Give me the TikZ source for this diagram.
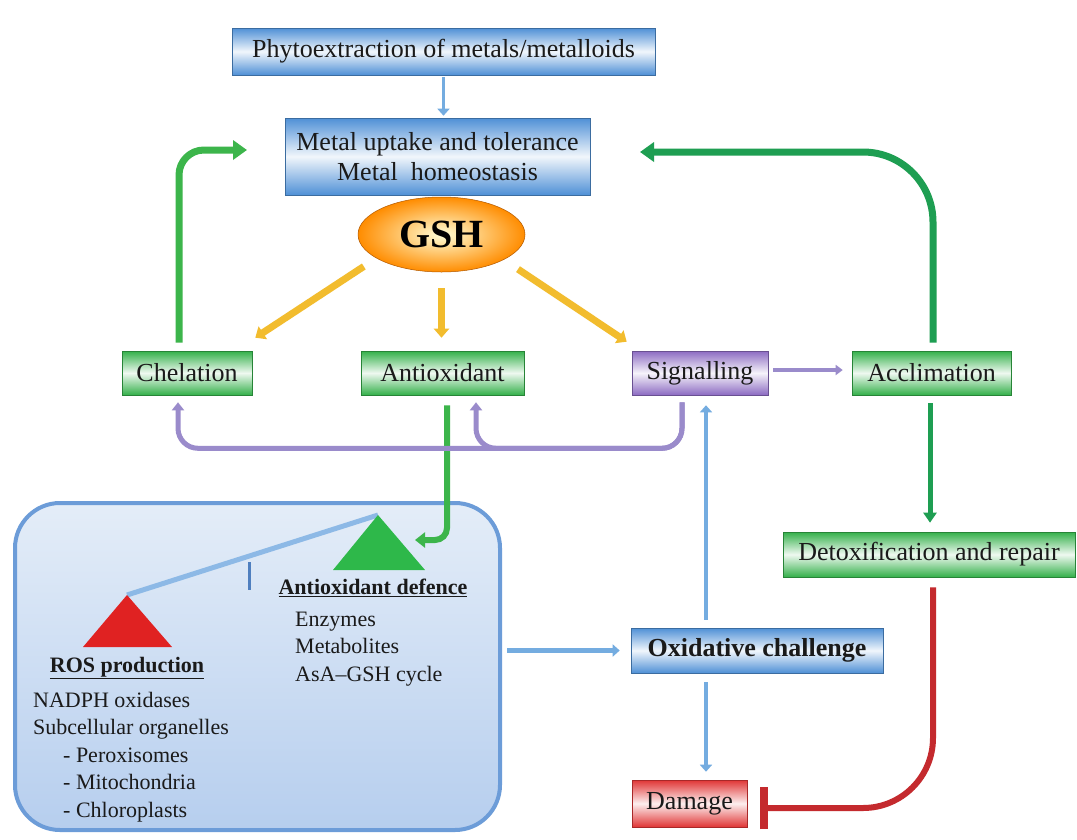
\documentclass[tikz,border=0pt]{standalone}
\usepackage{fontspec}
\setmainfont{Liberation Serif}
\usetikzlibrary{arrows.meta,shapes.geometric,calc}
\definecolor{bluebox}{HTML}{4F90D6}
\definecolor{greenbox}{HTML}{34B04A}
\definecolor{purplebox}{HTML}{8C6BC2}
\definecolor{redbox}{HTML}{E03535}
\definecolor{grnA}{HTML}{3CB54B}
\definecolor{grnB}{HTML}{1E9E52}
\definecolor{purpline}{HTML}{9A8BCB}
\definecolor{blueline}{HTML}{74ACE0}
\definecolor{goldline}{HTML}{F2BC2E}
\definecolor{redline}{HTML}{C42A2E}
\definecolor{bigedge}{HTML}{6C9CD8}
\definecolor{bigtop}{HTML}{E4EDF8}
\definecolor{bigbot}{HTML}{B6CEEE}
\definecolor{beamcol}{HTML}{8DB9E6}
\definecolor{tickcol}{HTML}{4F7FBF}
\definecolor{redtri}{HTML}{E02222}
\definecolor{greentri}{HTML}{2EB84A}
\definecolor{txt}{HTML}{1A1A1A}
\begin{document}
\begin{tikzpicture}[x=1pt,y=-1pt,
  box/.style={draw=#1!75!black, line width=0.6pt, top color=#1, bottom color=#1, middle color=#1!8,
    inner sep=0pt, font=\fontsize{26}{30}\selectfont, text=txt, align=center},
  bigbox/.style={draw=bigedge, line width=4pt, rounded corners=45pt, top color=bigtop, bottom color=bigbot},
  thinblue/.style={draw=blueline, line width=4pt, -{Triangle[length=7pt,width=12pt]}},
  purp/.style={draw=purpline, line width=5pt, rounded corners=20pt, -{Triangle[length=8pt,width=12pt]}},
  grnarrow/.style={draw=#1, line width=7pt, -{Triangle[length=14pt,width=19pt]}},
  goldarrow/.style={draw=goldline, line width=7pt, -{Triangle[length=9pt,width=15pt]}},
  redinh/.style={draw=redline, line width=6pt, rounded corners=70pt, -{Bar[width=42pt,line width=8pt]}},
  innertext/.style={inner sep=0pt, font=\fontsize{22}{27.5}\selectfont, text=txt, align=left},
  headtext/.style={inner sep=0pt, font=\bfseries\fontsize{22}{26}\selectfont, text=txt}
]
\useasboundingbox (0,0) rectangle (1077,839);
\fill[white] (0,0) rectangle (1077,839);

% big box
\node[bigbox, minimum width=485pt, minimum height=327pt] (big) at (257.5,666.5) {};

% boxes
\node[box=bluebox, minimum width=423pt, minimum height=47pt] (phyto) at (443.5,51.5) {Phytoextraction of metals/metalloids};
\node[box=bluebox, minimum width=305pt, minimum height=77pt] (metal) at (437.5,156.5) {Metal uptake and tolerance\\Metal\ \ homeostasis};
\node[ellipse, minimum width=167pt, minimum height=75pt, inner sep=0pt, draw=orange!70!black, line width=0.5pt,
      inner color=yellow!15!white, outer color=orange!90!yellow, font=\bfseries\fontsize{40}{44}\selectfont] (gsh) at (441.5,234.5) {GSH};
\node[box=greenbox, minimum width=130pt, minimum height=44pt] (chel) at (187,373) {Chelation};
\node[box=greenbox, minimum width=163pt, minimum height=44pt] (antiox) at (442.5,373) {Antioxidant};
\node[box=purplebox, minimum width=136pt, minimum height=44pt] (signal) at (700,373) {Signalling};
\node[box=greenbox, minimum width=159pt, minimum height=44pt] (acclim) at (931.5,373) {Acclimation};
\node[box=greenbox, minimum width=292pt, minimum height=45pt] (detox) at (929,554.5) {Detoxification and repair};
\node[box=bluebox, minimum width=252pt, minimum height=45pt, font=\bfseries\fontsize{26}{30}\selectfont] (oxid) at (757,650.5) {Oxidative challenge};
\node[box=redbox, minimum width=115pt, minimum height=47pt] (damage) at (689.5,803.5) {Damage};

% seesaw inside the big box
\coordinate (rosapex) at (127,595);
\coordinate (aoapex) at (378,515);
\coordinate (tickTop) at (249,562);
\coordinate (tickBot) at (249,590);
\draw[beamcol, line width=5pt] (rosapex) -- (aoapex);
\draw[tickcol, line width=3pt] (tickTop) -- (tickBot);
\fill[redtri] (rosapex) -- ++(45,52) -- ++(-89,0) -- cycle;
\fill[greentri] (aoapex) -- ++(47,55) -- ++(-92,0) -- cycle;

\node[headtext] (roshead) at (127,668) {\underline{ROS production}};
\node[headtext] (aohead) at (373,588) {\underline{Antioxidant defence}};
\node[innertext, anchor=west] (roslist) at (33,757) {NADPH oxidases\\Subcellular organelles\\\hspace*{30pt}- Peroxisomes\\\hspace*{30pt}- Mitochondria\\\hspace*{30pt}- Chloroplasts};
\node[innertext, anchor=west] (aolist) at (295,649) {Enzymes\\Metabolites\\AsA--GSH cycle};

% thin blue arrows
\draw[thinblue, line width=3pt, shorten <=2pt, shorten >=2pt] (phyto.south) -- (phyto.south |- metal.north);
\coordinate (oxUp) at ([xshift=-51pt]oxid.north);
\coordinate (oxDown) at ([xshift=-51pt]oxid.south);
\draw[thinblue, shorten <=8pt, shorten >=10pt] (oxUp) -- (oxUp |- signal.south);
\draw[thinblue, shorten <=9pt, shorten >=8pt] (oxDown) -- (oxDown |- damage.north);
\draw[thinblue, line width=5pt, shorten <=5pt, shorten >=11pt] (big.east |- oxid.west) -- (oxid.west);

% gold arrows from GSH
\draw[goldarrow, shorten <=15pt] (gsh.200) -- ([xshift=3pt,yshift=13pt]chel.north east);
\draw[goldarrow, shorten <=16pt, shorten >=13pt] (gsh.south) -- (gsh.south |- antiox.north);
\draw[goldarrow, shorten <=17pt] (gsh.-22) -- ([xshift=-5pt,yshift=9pt]signal.north west);

% green arrows
\coordinate (tipL) at (247,150);
\coordinate (tipR) at (640,152);
\coordinate (tipAO) at (415,540);
\draw[grnarrow=grnA, rounded corners=25pt, shorten <=8pt] ([xshift=-8pt]chel.north) |- (tipL);
\draw[grnarrow=grnB, rounded corners=70pt, shorten <=8pt] ([xshift=1.5pt]acclim.north) |- (tipR);
\draw[draw=grnA, line width=6pt, rounded corners=12pt, shorten <=10pt, -{Triangle[length=10pt,width=15pt]}] ([xshift=4.5pt]antiox.south) |- (tipAO);
\draw[draw=grnB, line width=5pt, shorten <=8pt, shorten >=9pt, -{Triangle[length=10pt,width=13pt]}] ([xshift=-1.5pt]acclim.south) -- ([xshift=-1.5pt]acclim.south |- detox.north);

% purple arrows
\draw[draw=purpline, line width=4pt, shorten <=5pt, shorten >=9pt, -{Triangle[length=7pt,width=10pt]}] ([yshift=3pt]signal.east) -- ([yshift=3pt]acclim.west);
\draw[purp, shorten <=7pt, shorten >=7pt] ([xshift=-18pt]signal.south) -- ++(0,53) -| ([xshift=-9pt]chel.south);
\draw[purp, shorten <=7pt, shorten >=7pt] ([xshift=-18pt]signal.south) -- ++(0,53) -| ([xshift=33.5pt]antiox.south);

% red inhibition
\draw[redinh, shorten <=10pt, shorten >=13pt] ([xshift=4pt]detox.south) |- ([yshift=-4.5pt]damage.east);
\end{tikzpicture}
\end{document}
